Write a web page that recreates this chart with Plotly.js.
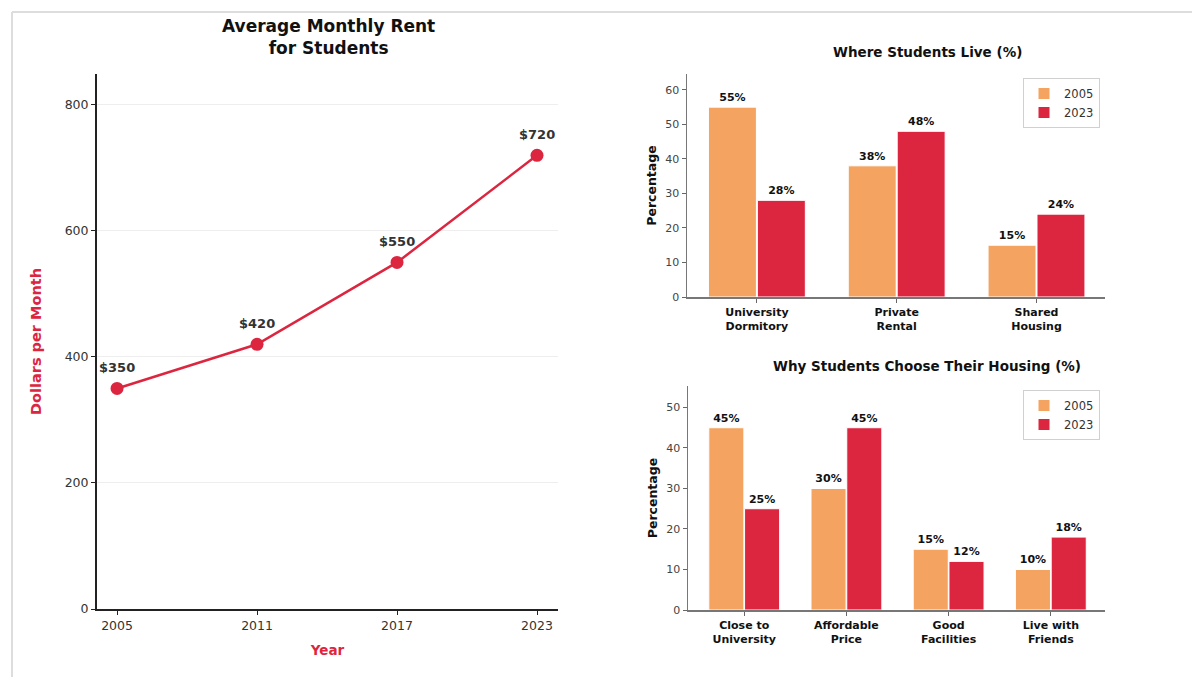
<!DOCTYPE html>
<html>
<head>
<meta charset="utf-8">
<script src="https://cdn.plot.ly/plotly-3.0.1.min.js"></script>
<style>
  html, body { margin: 0; padding: 0; background: #fff; }
  #chart { width: 1199px; height: 677px; }
</style>
</head>
<body>
<div id="chart"></div>
<script>
// rent over time
const years = [2005, 2011, 2017, 2023];
const rent = [350, 420, 550, 720];

// where students live
const liveCats = ['University<br>Dormitory', 'Private<br>Rental', 'Shared<br>Housing'];
const live2005 = [55, 38, 15];
const live2023 = [28, 48, 24];

// why they choose
const whyCats = ['Close to<br>University', 'Affordable<br>Price', 'Good<br>Facilities', 'Live with<br>Friends'];
const why2005 = [45, 30, 15, 10];
const why2023 = [25, 45, 12, 18];

const seriesNames = ['2005', '2023'];

const ORANGE = '#f4a460';
const RED = '#dc2640';
const FONT = 'DejaVu Sans';

function px(x) { return x / 1199; }
function py(y) { return 1 - y / 677; }

function barTrace(cats, vals, name, color, xa, ya, legend) {
    return {
        type: 'bar',
        x: cats,
        y: vals,
        name: name,
        xaxis: xa,
        yaxis: ya,
        legend: legend,
        marker: { color: color, line: { color: '#ffffff', width: 1 } },
        texttemplate: '%{y}%',
        textposition: 'outside',
        cliponaxis: false,
        textfont: { family: FONT, size: 11, color: '#111', weight: 'bold' },
        hoverinfo: 'skip'
    };
}

var data = [
    {
        type: 'scatter',
        mode: 'lines+markers',
        x: years,
        y: rent,
        line: { color: RED, width: 2.5 },
        marker: { color: RED, size: 13 },
        showlegend: false,
        xaxis: 'x',
        yaxis: 'y'
    },
    barTrace(liveCats, live2005, seriesNames[0], ORANGE, 'x2', 'y2', 'legend'),
    barTrace(liveCats, live2023, seriesNames[1], RED, 'x2', 'y2', 'legend'),
    barTrace(whyCats, why2005, seriesNames[0], ORANGE, 'x3', 'y3', 'legend2'),
    barTrace(whyCats, why2023, seriesNames[1], RED, 'x3', 'y3', 'legend2')
];

// value labels on the rent line
var annotations = years.map(function (yr, i) {
    return {
        x: yr, y: rent[i], xref: 'x', yref: 'y',
        text: '$' + rent[i],
        showarrow: false,
        xanchor: 'center',
        yanchor: 'middle',
        yshift: 21,
        font: { family: FONT, size: 13, color: '#333', weight: 'bold' }
    };
});

annotations.push(
    { xref: 'paper', yref: 'paper', x: px(328), y: py(36.5), showarrow: false,
      text: 'Average Monthly Rent<br>for Students', xanchor: 'center', yanchor: 'middle',
      font: { family: FONT, size: 17, color: '#111', weight: 'bold' } },
    { xref: 'paper', yref: 'paper', x: px(927), y: py(52), showarrow: false,
      text: 'Where Students Live (%)', xanchor: 'center', yanchor: 'middle',
      font: { family: FONT, size: 13.5, color: '#111', weight: 'bold' } },
    { xref: 'paper', yref: 'paper', x: px(927), y: py(366), showarrow: false,
      text: 'Why Students Choose Their Housing (%)', xanchor: 'center', yanchor: 'middle',
      font: { family: FONT, size: 13.5, color: '#111', weight: 'bold' } }
);

const tickFont = { family: FONT, size: 12.5, color: '#333' };
const smallTick = { family: FONT, size: 11, color: '#444' };
const catTick = { family: FONT, size: 11, color: '#111', weight: 'bold' };

var layout = {
    width: 1199,
    height: 677,
    margin: { l: 0, r: 0, t: 0, b: 0 },
    paper_bgcolor: '#ffffff',
    plot_bgcolor: '#ffffff',
    font: { family: FONT },
    barmode: 'group',
    bargap: 0.3,
    bargroupgap: 0.02,
    annotations: annotations,
    xaxis: {
        domain: [px(97), px(558)],
        range: [2004.14, 2023.9],
        tickvals: years,
        ticks: 'outside', ticklen: 4, tickcolor: '#222',
        tickfont: tickFont,
        showgrid: false, zeroline: false,
        showline: true, linecolor: '#222', linewidth: 2,
        title: { text: 'Year', standoff: 14,
                 font: { family: FONT, size: 13.5, color: RED, weight: 'bold' } },
        anchor: 'y'
    },
    yaxis: {
        domain: [py(609), py(74)],
        range: [0, 849],
        dtick: 200,
        ticks: 'outside', ticklen: 4, tickcolor: '#222',
        tickfont: tickFont,
        showgrid: true, gridcolor: '#eeeeee', gridwidth: 1,
        zeroline: false,
        showline: true, linecolor: '#222', linewidth: 2,
        title: { text: 'Dollars per Month', standoff: 20,
                 font: { family: FONT, size: 14.5, color: RED, weight: 'bold' } },
        anchor: 'x'
    },
    xaxis2: {
        domain: [px(687), px(1105)],
        range: [-0.5, 2.49],
        ticks: 'outside', ticklen: 4, tickcolor: '#666',
        tickfont: catTick,
        showgrid: false, zeroline: false,
        showline: true, linecolor: '#777', linewidth: 1.5,
        anchor: 'y2'
    },
    yaxis2: {
        domain: [py(297), py(74)],
        range: [0, 64.6],
        dtick: 10,
        ticks: 'outside', ticklen: 4, tickcolor: '#666',
        tickfont: smallTick,
        showgrid: false, zeroline: false,
        showline: true, linecolor: '#777', linewidth: 1.5,
        title: { text: 'Percentage', standoff: 6,
                 font: { family: FONT, size: 12.5, color: '#111', weight: 'bold' } },
        anchor: 'x2'
    },
    xaxis3: {
        domain: [px(688), px(1105)],
        range: [-0.55, 3.53],
        ticks: 'outside', ticklen: 4, tickcolor: '#666',
        tickfont: catTick,
        showgrid: false, zeroline: false,
        showline: true, linecolor: '#777', linewidth: 1.5,
        anchor: 'y3'
    },
    yaxis3: {
        domain: [py(610), py(386)],
        range: [0, 55.3],
        dtick: 10,
        ticks: 'outside', ticklen: 4, tickcolor: '#666',
        tickfont: smallTick,
        showgrid: false, zeroline: false,
        showline: true, linecolor: '#777', linewidth: 1.5,
        title: { text: 'Percentage', standoff: 6,
                 font: { family: FONT, size: 12.5, color: '#111', weight: 'bold' } },
        anchor: 'x3'
    },
    legend: {
        x: px(1100), y: py(78), xanchor: 'right', yanchor: 'top',
        bordercolor: '#d0d0d0', borderwidth: 1, bgcolor: '#ffffff',
        font: { family: FONT, size: 11.5, color: '#333' },
        traceorder: 'normal'
    },
    legend2: {
        x: px(1100), y: py(390), xanchor: 'right', yanchor: 'top',
        bordercolor: '#d0d0d0', borderwidth: 1, bgcolor: '#ffffff',
        font: { family: FONT, size: 11.5, color: '#333' },
        traceorder: 'normal'
    },
    // light frame along the top and left edges
    shapes: [
        { type: 'line', xref: 'paper', yref: 'paper', x0: px(12), x1: px(1192), y0: py(12), y1: py(12),
          line: { color: '#dddddd', width: 2 } },
        { type: 'line', xref: 'paper', yref: 'paper', x0: px(12), x1: px(12), y0: py(12), y1: 0,
          line: { color: '#dddddd', width: 2 } }
    ]
};

Plotly.newPlot('chart', data, layout, { displayModeBar: false, staticPlot: true });
</script>
</body>
</html>
